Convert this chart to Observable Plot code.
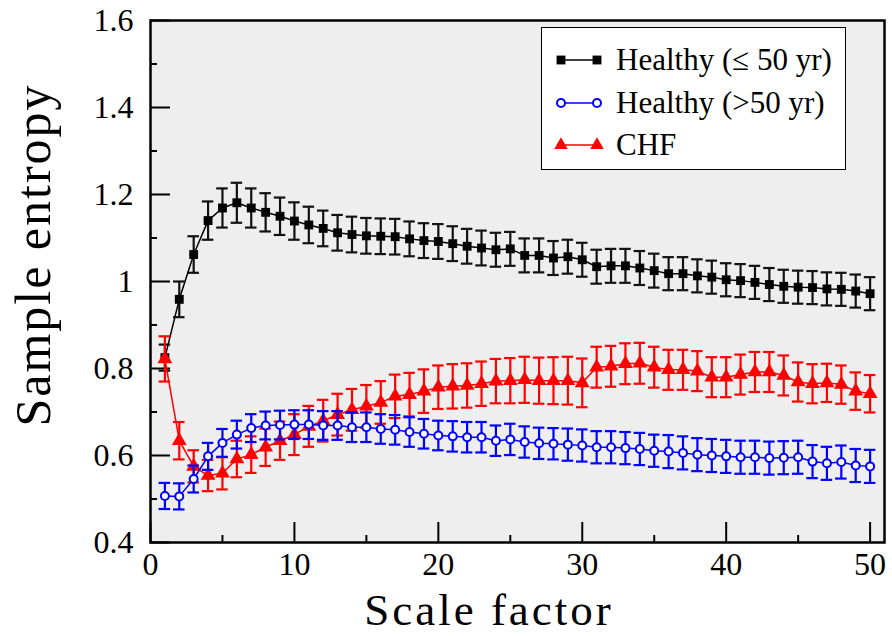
<!DOCTYPE html>
<html><head><meta charset="utf-8">
<script src="https://cdn.jsdelivr.net/npm/d3@7"></script>
<script src="https://cdn.jsdelivr.net/npm/@observablehq/plot@0.6"></script>
<style>
body{margin:0;background:#fff;}
#wrap{position:relative;width:892px;height:636px;font-family:"Liberation Serif","Times New Roman",serif;color:#000;}
.lab{position:absolute;white-space:nowrap;line-height:1.1;}
#ylab{font-size:50px;letter-spacing:2px;}
#xlab{font-size:45px;letter-spacing:3px;}
#legend{position:absolute;left:541px;top:27px;width:305px;height:143px;background:#fff;border:1.5px solid #000;box-sizing:border-box;}
.row{position:absolute;left:0;height:40px;display:flex;align-items:center;}
.row span{font-size:31px;margin-left:12px;}
</style></head><body><div id="wrap"></div>
<script>
// ---- data ----
const scale = d3.range(1, 51);
const healthyYoung = [0.825,0.959,1.062,1.140,1.169,1.181,1.169,1.159,1.150,1.139,
  1.130,1.122,1.112,1.108,1.105,1.104,1.103,1.098,1.094,1.092,
  1.087,1.081,1.077,1.073,1.075,1.060,1.060,1.054,1.057,1.050,
  1.034,1.036,1.036,1.031,1.025,1.018,1.018,1.013,1.010,1.004,
  1.002,0.998,0.993,0.989,0.987,0.986,0.983,0.982,0.978,0.972];
const healthyYoungErr = [0.030,0.041,0.042,0.044,0.045,0.046,0.045,0.044,0.043,0.043,
  0.042,0.041,0.041,0.041,0.041,0.041,0.041,0.040,0.040,0.040,
  0.040,0.040,0.040,0.039,0.039,0.039,0.039,0.039,0.039,0.039,
  0.039,0.039,0.039,0.039,0.039,0.038,0.038,0.038,0.038,0.038,
  0.038,0.038,0.038,0.038,0.038,0.038,0.038,0.038,0.038,0.038];
const healthyOld = [0.507,0.506,0.546,0.598,0.629,0.648,0.663,0.669,0.670,0.671,
  0.671,0.669,0.669,0.665,0.665,0.661,0.659,0.654,0.650,0.646,
  0.644,0.642,0.642,0.634,0.637,0.631,0.628,0.627,0.625,0.623,
  0.619,0.619,0.617,0.615,0.611,0.609,0.606,0.602,0.600,0.598,
  0.596,0.596,0.594,0.595,0.596,0.586,0.582,0.585,0.577,0.575];
const healthyOldErr = [0.030,0.030,0.031,0.031,0.032,0.032,0.032,0.032,0.033,0.033,
  0.033,0.033,0.033,0.034,0.034,0.034,0.034,0.034,0.034,0.034,
  0.035,0.035,0.035,0.035,0.036,0.036,0.036,0.036,0.037,0.037,
  0.037,0.037,0.037,0.037,0.037,0.038,0.038,0.038,0.038,0.038,
  0.038,0.038,0.038,0.038,0.038,0.038,0.038,0.038,0.038,0.038];
const chf = [0.822,0.634,0.575,0.554,0.559,0.592,0.602,0.619,0.634,0.648,
  0.667,0.680,0.694,0.705,0.713,0.722,0.736,0.740,0.748,0.757,
  0.759,0.761,0.765,0.771,0.772,0.774,0.772,0.772,0.772,0.767,
  0.803,0.805,0.811,0.812,0.803,0.797,0.797,0.794,0.780,0.780,
  0.786,0.792,0.792,0.784,0.769,0.765,0.767,0.763,0.748,0.742];
const chfErr = [0.052,0.043,0.037,0.036,0.037,0.042,0.042,0.043,0.044,0.047,
  0.047,0.048,0.048,0.048,0.049,0.049,0.050,0.050,0.050,0.050,
  0.051,0.051,0.051,0.051,0.052,0.053,0.053,0.054,0.055,0.056,
  0.047,0.047,0.047,0.047,0.047,0.046,0.046,0.046,0.046,0.046,
  0.046,0.046,0.046,0.046,0.045,0.045,0.044,0.044,0.043,0.043];
const seriesNames = ["Healthy (\u2264 50 yr)", "Healthy (>50 yr)", "CHF"];
const seriesColors = ["#000000", "#0000ff", "#ff0000"];
const xMajor = [0,10,20,30,40,50];
const xMinor = [5,15,25,35,45];
const yMajor = [0.4,0.6,0.8,1.0,1.2,1.4,1.6];
const yMinor = [0.5,0.7,0.9,1.1,1.3,1.5];
const yTickLabels = ["0.4","0.6","0.8","1","1.2","1.4","1.6"];
const xTickLabels = ["0","10","20","30","40","50"];

const mk = (ys, es) => scale.map((x,i)=>({x, y: ys[i], e: es[i]}));
const sY = mk(healthyYoung, healthyYoungErr);
const sO = mk(healthyOld, healthyOldErr);
const sC = mk(chf, chfErr);

function errMarks(data, color, sw){
  return [
    Plot.ruleX(data, {x:"x", y1:d=>d.y-d.e, y2:d=>d.y+d.e, stroke:color, strokeWidth:sw}),
    Plot.ruleY(data, {y:d=>d.y+d.e, x1:d=>d.x-0.4, x2:d=>d.x+0.4, stroke:color, strokeWidth:sw}),
    Plot.ruleY(data, {y:d=>d.y-d.e, x1:d=>d.x-0.4, x2:d=>d.x+0.4, stroke:color, strokeWidth:sw})
  ];
}

const plot = Plot.plot({
  width: 892, height: 636,
  marginLeft: 150, marginTop: 20, marginRight: 8, marginBottom: 94,
  style: {fontFamily: "'Liberation Serif', 'Times New Roman', serif", color: "#000", background: "#fff"},
  x: {domain: [0, 51], label: null},
  y: {domain: [0.4, 1.6], label: null},
  marks: [
    Plot.frame({fill: "#eeeeee", stroke: null}),
    // inward ticks
    Plot.axisY(yMajor, {tickSize: 20, dx: 20, tickFormat: () => "", strokeWidth: 2}),
    Plot.axisY(yMinor, {tickSize: 7, dx: 7, tickFormat: () => "", strokeWidth: 2}),
    Plot.axisX(xMajor, {tickSize: 20, dy: -20, tickFormat: () => "", strokeWidth: 2}),
    Plot.axisX(xMinor, {tickSize: 7, dy: -7, tickFormat: () => "", strokeWidth: 2}),
    // tick labels
    Plot.axisY(yMajor, {tickSize: 0, tickPadding: 17, fontSize: 32, tickFormat: d => yTickLabels[yMajor.indexOf(d)]}),
    Plot.axisX(xMajor, {tickSize: 0, tickPadding: 10, fontSize: 32, tickFormat: d => xTickLabels[xMajor.indexOf(d)]}),
    // healthy young
    ...errMarks(sY, "#111", 2.2),
    Plot.line(sY, {x:"x", y:"y", stroke: seriesColors[0], strokeWidth: 1.5}),
    Plot.dot(sY, {x:"x", y:"y", symbol:"square", r:5, fill: seriesColors[0]}),
    // CHF
    ...errMarks(sC, seriesColors[2], 2.2),
    Plot.line(sC, {x:"x", y:"y", stroke: seriesColors[2], strokeWidth: 1.5}),
    Plot.dot(sC, {x:"x", y:"y", symbol:"triangle", r:5.5, fill: seriesColors[2]}),
    // healthy old
    ...errMarks(sO, seriesColors[1], 2.2),
    Plot.line(sO, {x:"x", y:"y", stroke: seriesColors[1], strokeWidth: 1.5}),
    Plot.dot(sO, {x:"x", y:"y", symbol:"circle", r:4, fill:"#fff", stroke: seriesColors[1], strokeWidth: 2}),
    Plot.frame({stroke: "#000", strokeWidth: 2.5})
  ]
});

const wrap = document.getElementById("wrap");
wrap.appendChild(plot);

// axis titles
const yl = document.createElement("div");
yl.className = "lab"; yl.id = "ylab"; yl.textContent = "Sample entropy";
yl.style.left = "33px"; yl.style.top = "255px";
yl.style.transform = "translate(-50%,-50%) rotate(-90deg)";
wrap.appendChild(yl);
const xl = document.createElement("div");
xl.className = "lab"; xl.id = "xlab"; xl.textContent = "Scale factor";
xl.style.left = "489px"; xl.style.top = "586px";
xl.style.transform = "translateX(-50%)";
wrap.appendChild(xl);

// legend
const leg = document.createElement("div");
leg.id = "legend";
wrap.appendChild(leg);
const symbols = ["square","circle","triangle"];
const rowTops = [12, 55, 97];
seriesNames.forEach((name, i) => {
  const row = document.createElement("div");
  row.className = "row"; row.style.top = rowTops[i] + "px"; row.style.left = "12px";
  const svg = d3.create("svg").attr("width", 50).attr("height", 20);
  svg.append("line").attr("x1", 7).attr("x2", 43).attr("y1", 10).attr("y2", 10)
    .attr("stroke", seriesColors[i]).attr("stroke-width", 1.5);
  const sym = {square: d3.symbolSquare, circle: d3.symbolCircle, triangle: d3.symbolTriangle}[symbols[i]];
  const size = symbols[i] === "circle" ? Math.PI*16 : Math.PI*25;
  [7, 43].forEach(cx => {
    svg.append("path").attr("d", d3.symbol(sym, size)()).attr("transform", `translate(${cx},10)`)
      .attr("fill", symbols[i] === "circle" ? "#fff" : seriesColors[i])
      .attr("stroke", symbols[i] === "circle" ? seriesColors[i] : "none")
      .attr("stroke-width", 2);
  });
  row.appendChild(svg.node());
  const sp = document.createElement("span"); sp.textContent = name;
  row.appendChild(sp);
  leg.appendChild(row);
});
</script></body></html>
